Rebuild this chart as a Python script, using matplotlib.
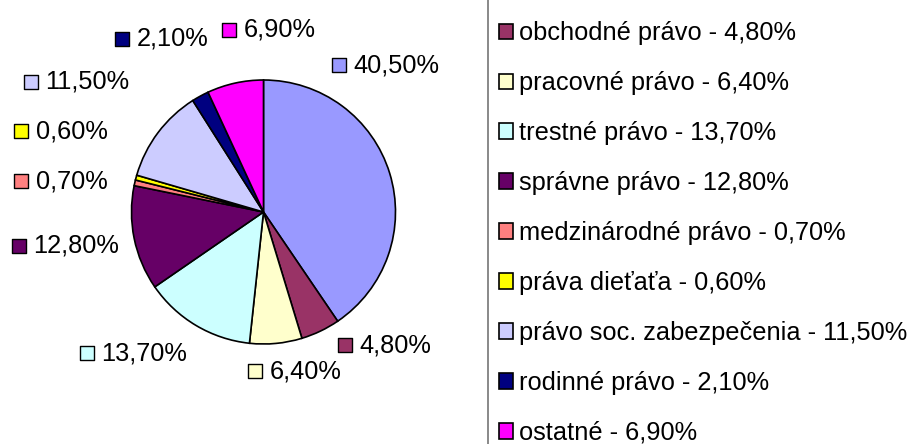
import matplotlib
matplotlib.use('Agg')
import matplotlib.pyplot as plt

plt.rcParams['font.family'] = ['Liberation Sans', 'DejaVu Sans']

categories = ["občianske právo", "obchodné právo", "pracovné právo", "trestné právo",
              "správne právo", "medzinárodné právo", "práva dieťaťa",
              "právo soc. zabezpečenia", "rodinné právo", "ostatné"]
values = [40.5, 4.8, 6.4, 13.7, 12.8, 0.7, 0.6, 11.5, 2.1, 6.9]
colors = ["#9999FF", "#993366", "#FFFFCC", "#CCFFFF", "#660066",
          "#FF8080", "#FFFF00", "#CCCCFF", "#000080", "#FF00FF"]

# layout only: data-label marker centres in pixels (x, y measured from top)
label_pos = [(339, 65), (345, 345), (255, 371), (87, 353), (19, 246),
             (21, 181), (21, 131), (31, 82), (122, 39), (229, 30)]

W, H = 922, 444
FS = 18.3
fig = plt.figure(figsize=(W / 100, H / 100), dpi=100)
ax = fig.add_axes([0, 0, 1, 1])

def fmt(v):
    return f"{v:.2f}".replace('.', ',') + "%"

wedges, _ = ax.pie(values, colors=colors, startangle=90, counterclock=False,
                   center=(263.5, H - 212), radius=132,
                   wedgeprops=dict(edgecolor='black', linewidth=1.2))
ax.set_xlim(0, W)
ax.set_ylim(0, H)
ax.set_aspect('equal')
ax.axis('off')

for (px, py), v, c in zip(label_pos, values, colors):
    ax.scatter([px], [H - py], marker='s', s=100, c=[c], edgecolors='black',
               linewidths=1.0, zorder=5)
    ax.text(px + 14.5, H - py, fmt(v), fontsize=FS, ha='left', va='center')

# legend: the first entry lies above the visible area in the original, so it is cropped
labels = [f"{c} - " + fmt(v) for c, v in zip(categories, values)]
leg = ax.legend(wedges[1:], labels[1:], loc='upper left',
                bbox_to_anchor=(487.5, H - 10.0),
                bbox_transform=ax.transData, borderaxespad=0, fontsize=FS,
                handlelength=0.57, handleheight=0.57, handletextpad=0.22,
                labelspacing=1.02, borderpad=0.45, frameon=False)
ax.axvline(487.5, color='#808080', linewidth=1.3)

fig.savefig('out.png', dpi=100)
